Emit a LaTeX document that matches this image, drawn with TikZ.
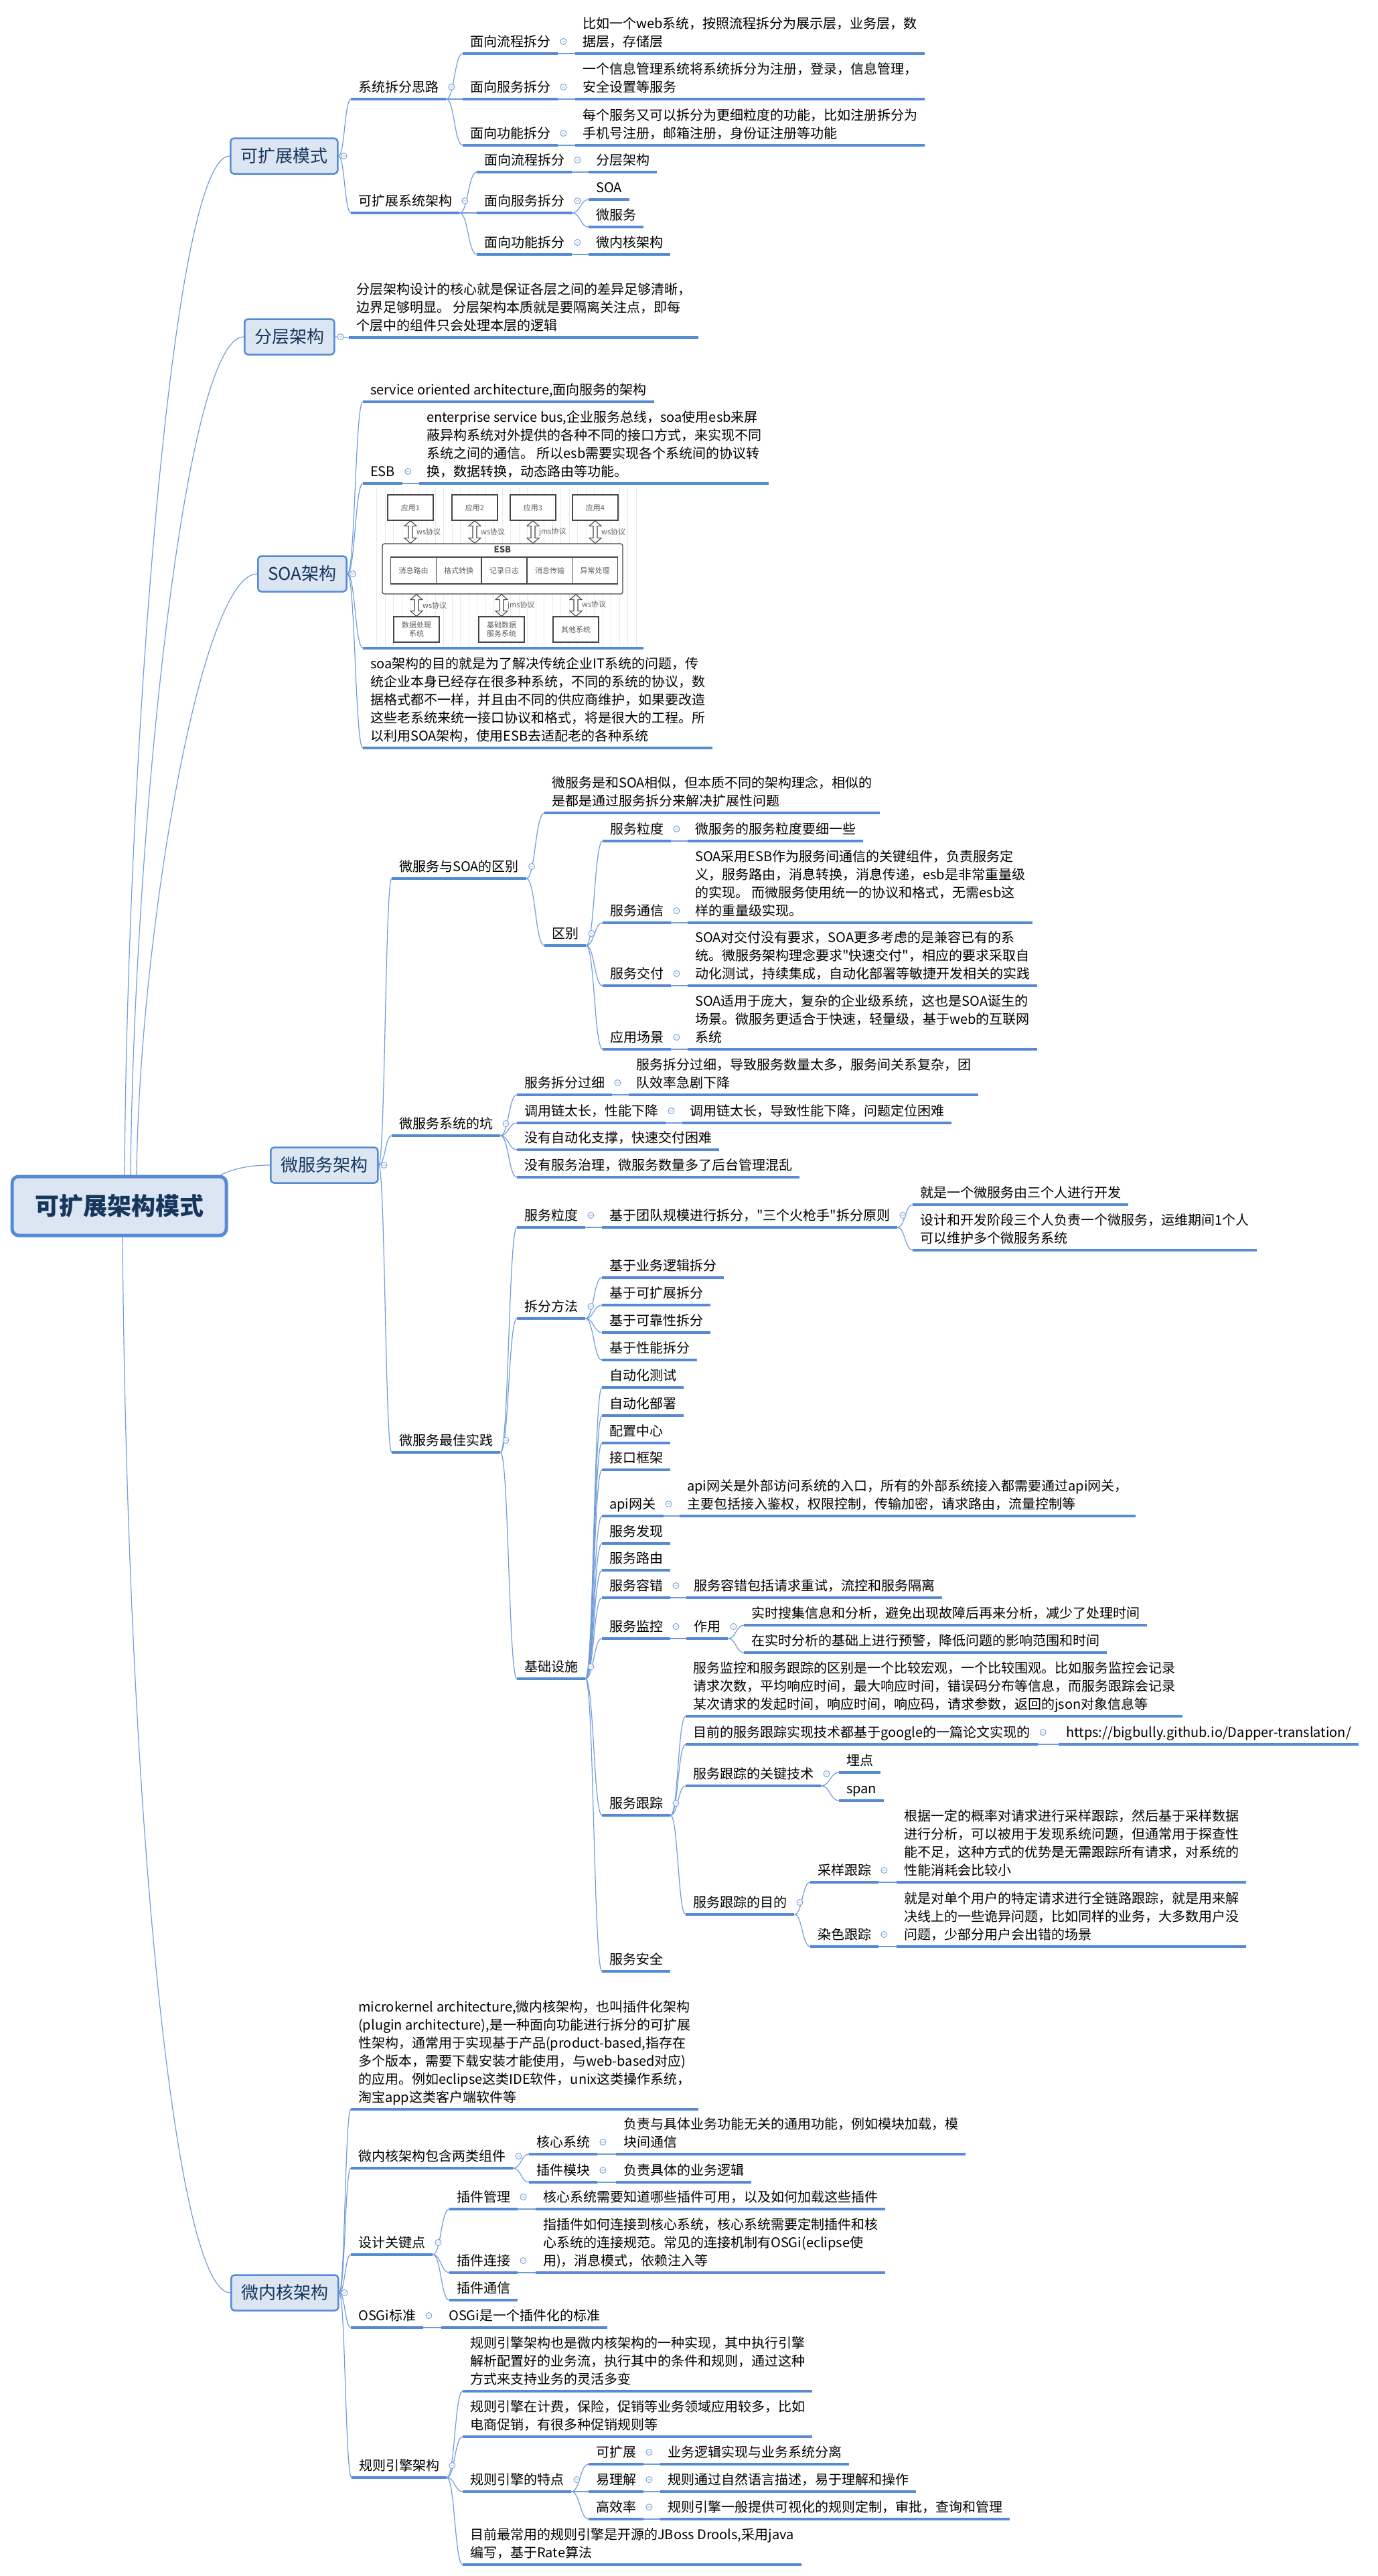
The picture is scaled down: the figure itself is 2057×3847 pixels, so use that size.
\documentclass[tikz,border=0pt]{standalone}
\usepackage{fontspec}
\setmainfont{Noto Sans CJK SC}[Ligatures=TeXOff]
\usetikzlibrary{calc}
\definecolor{ulc}{RGB}{86,138,212}
\definecolor{linkc}{RGB}{112,156,218}
\definecolor{boxfill}{RGB}{220,230,242}
\definecolor{boxtext}{RGB}{23,54,93}
\definecolor{imgline}{RGB}{70,70,70}
\definecolor{imgtext}{RGB}{95,95,95}
\definecolor{gridc}{RGB}{234,234,234}
\pgfdeclarelayer{bg}
\pgfsetlayers{bg,main}
\begin{document}
\begin{tikzpicture}[
x=1pt,y=-1pt,
uline/.style={draw=ulc,line width=3.5pt},
link/.style={draw=linkc,line width=1.2pt,
  to path={let \p1=(\tikztostart),\p2=(\tikztotarget) in
    .. controls ({0.5*(\x1+\x2)},\y1) and ({0.5*(\x1+\x2)},\y2) .. (\tikztotarget)}},
foldmark/.style={draw=linkc,line width=0.9pt,fill=white,
  to path={circle[radius=4.5] ++(-2.5,0) -- ++(5,0)}},
topic/.style={anchor=south west,inner xsep=11pt,inner ysep=0pt,text depth=10pt,align=left,
  font=\fontsize{20}{27}\selectfont,
  append after command={(\tikzlastnode.south west) edge[uline] (\tikzlastnode.south east)}},
fold/.style={append after command={($(\tikzlastnode.south east)+(8,-18)$) edge[foldmark] (\tikzlastnode)}},
branch/.style={draw=ulc,line width=2.5pt,fill=boxfill,rounded corners=5pt,anchor=west,
  minimum height=53pt,inner xsep=15pt,font=\fontsize{26}{30}\selectfont,text=boxtext,
  append after command={($(\tikzlastnode.east)+(8,0)$) edge[foldmark] (\tikzlastnode)}},
rootbox/.style={draw=ulc,line width=5pt,fill=boxfill,rounded corners=10pt,
  minimum width=320pt,minimum height=88pt,font=\fontsize{36}{40}\selectfont\bfseries,text=boxtext},
imgtxt/.style={inner sep=1pt,font=\fontsize{11}{13}\selectfont,text=imgtext},
imgbox/.style={draw=imgline,line width=1.2pt,fill=white,minimum width=68pt,minimum height=38pt,
  align=center,imgtxt},
imgcell/.style={draw=imgline,line width=1.2pt,fill=white,minimum width=67.6pt,minimum height=40pt,imgtxt},
blk/.style={draw=imgline,fill=white,line width=1.1pt,
  to path={let \p1=(\tikztostart),\p2=(\tikztotarget) in
    (\x1,\y1) -- (\x1+9,\y1-8) -- (\x1+3,\y1-8) -- (\x1+3,\y2+8) -- (\x1+9,\y2+8) -- (\x1,\y2)
    -- (\x1-9,\y2+8) -- (\x1-3,\y2+8) -- (\x1-3,\y1-8) -- (\x1-9,\y1-8) -- cycle}}
]
\begin{pgfonlayer}{bg}
\fill[white] (0,0) rectangle (2057,3847);
\end{pgfonlayer}
\useasboundingbox (0,0) rectangle (2057,3847);

\node[rootbox] (root) at (178,1801) {可扩展架构模式};

\node[branch] (kzms) at (343,233) {可扩展模式};
\node[branch] (fcjg) at (364,503) {分层架构};
\node[branch] (soajg) at (384,857) {SOA架构};
\node[branch] (wfwjg) at (403,1740) {微服务架构};
\node[branch] (wnhjg) at (344,3424) {微内核架构};

\node[topic,fold] (cfsl) at (524,148) {系统拆分思路};
\node[topic,fold] (lc1) at (691,80) {面向流程拆分};
\node[topic] (lc1t) at (859,80) {比如一个web系统，按照流程拆分为展示层，业务层，数\\据层，存储层};
\node[topic,fold] (fw1) at (691,148) {面向服务拆分};
\node[topic] (fw1t) at (859,148) {一个信息管理系统将系统拆分为注册，登录，信息管理，\\安全设置等服务};
\node[topic,fold] (gn1) at (691,217) {面向功能拆分};
\node[topic] (gn1t) at (859,217) {每个服务又可以拆分为更细粒度的功能，比如注册拆分为\\手机号注册，邮箱注册，身份证注册等功能};
\node[topic,fold] (kzjg) at (524,318) {可扩展系统架构};
\node[topic,fold] (lc2) at (712,257) {面向流程拆分};
\node[topic] (lc2t) at (879,257) {分层架构};
\node[topic,fold] (fw2) at (712,318) {面向服务拆分};
\node[topic] (soa) at (879,298) {SOA};
\node[topic] (wfw) at (879,339) {微服务};
\node[topic,fold] (gn2) at (712,380) {面向功能拆分};
\node[topic] (gn2t) at (879,380) {微内核架构};

\node[topic] (fcdesc) at (521,504) {分层架构设计的核心就是保证各层之间的差异足够清晰，\\边界足够明显。 分层架构本质就是要隔离关注点，即每\\个层中的组件只会处理本层的逻辑};

\node[topic] (soadef) at (542,600) {service oriented architecture,面向服务的架构};
\node[topic,fold] (esb) at (542,722) {ESB};
\node[topic] (esbt) at (626,722) {enterprise service bus,企业服务总线，soa使用esb来屏\\蔽异构系统对外提供的各种不同的接口方式，来实现不同\\系统之间的通信。 所以esb需要实现各个系统间的协议转\\换，数据转换，动态路由等功能。};
\node[topic,minimum width=419pt,minimum height=236pt] (esbpic) at (542,968) {};
\node[topic] (soawhy) at (542,1117) {soa架构的目的就是为了解决传统企业IT系统的问题，传\\统企业本身已经存在很多种系统，不同的系统的协议，数\\据格式都不一样，并且由不同的供应商维护，如果要改造\\这些老系统来统一接口协议和格式，将是很大的工程。所\\以利用SOA架构，使用ESB去适配老的各种系统};

\draw[gridc,step=12.5] (552,729) grid (952,965);
\node[imgbox] (app1) at (613,758) {应用1};
\node[imgbox] (app2) at (709,758) {应用2};
\node[imgbox] (app3) at (796,758) {应用3};
\node[imgbox] (app4) at (889,758) {应用4};
\node[draw=imgline,line width=1.2pt,fill=white,rounded corners=3pt,minimum width=359pt,minimum height=75pt] (bus) at (750.5,849.5) {};
\node[imgtxt,font=\fontsize{13}{15}\selectfont\bfseries,text=imgline] (bustitle) at (750.5,821) {ESB};
\node[imgcell] (c1) at (617.5,852) {消息路由};
\node[imgcell] (c2) at (685,852) {格式转换};
\node[imgcell] (c3) at (753,852) {记录日志};
\node[imgcell] (c4) at (821,852) {消息传输};
\node[imgcell] (c5) at (888.5,852) {异常处理};
\node[imgbox] (dp) at (622,940) {数据处理\\系统};
\node[imgbox] (jcsj) at (749,940) {基础数据\\服务系统};
\node[imgbox] (qtxt) at (860,940) {其他系统};
\draw (app1.south) edge[blk] (app1.south |- bus.north);
\draw (app2.south) edge[blk] (app2.south |- bus.north);
\draw (app3.south) edge[blk] (app3.south |- bus.north);
\draw (app4.south) edge[blk] (app4.south |- bus.north);
\draw (dp.north |- bus.south) edge[blk] (dp.north);
\draw (jcsj.north |- bus.south) edge[blk] (jcsj.north);
\draw (qtxt.north |- bus.south) edge[blk] (qtxt.north);
\node[imgtxt,anchor=west] (p1) at (621,794) {ws协议};
\node[imgtxt,anchor=west] (p2) at (717,794) {ws协议};
\node[imgtxt,anchor=west] (p3) at (804,794) {jms协议};
\node[imgtxt,anchor=west] (p4) at (897,794) {ws协议};
\node[imgtxt,anchor=west] (p5) at (630,904) {ws协议};
\node[imgtxt,anchor=west] (p6) at (757,904) {jms协议};
\node[imgtxt,anchor=west] (p7) at (868,902) {ws协议};

\node[topic,fold] (qb) at (585,1312) {微服务与SOA的区别};
\node[topic] (qbdesc) at (813,1214) {微服务是和SOA相似，但本质不同的架构理念，相似的\\是都是通过服务拆分来解决扩展性问题};
\node[topic,fold] (qbie) at (813,1412) {区别};
\node[topic,fold] (lidu) at (900,1256) {服务粒度};
\node[topic] (liduT) at (1027,1256) {微服务的服务粒度要细一些};
\node[topic,fold] (tongxin) at (900,1378) {服务通信};
\node[topic] (tongxinT) at (1027,1378) {SOA采用ESB作为服务间通信的关键组件，负责服务定\\义，服务路由，消息转换，消息传递，esb是非常重量级\\的实现。 而微服务使用统一的协议和格式，无需esb这\\样的重量级实现。};
\node[topic,fold] (jiaofu) at (900,1472) {服务交付};
\node[topic] (jiaofuT) at (1027,1472) {SOA对交付没有要求，SOA更多考虑的是兼容已有的系\\统。微服务架构理念要求"快速交付"，相应的要求采取自\\动化测试，持续集成，自动化部署等敏捷开发相关的实践};
\node[topic,fold] (changjing) at (900,1567) {应用场景};
\node[topic] (changjingT) at (1027,1567) {SOA适用于庞大，复杂的企业级系统，这也是SOA诞生的\\场景。微服务更适合于快速，轻量级，基于web的互联网\\系统};
\node[topic,fold] (keng) at (585,1696) {微服务系统的坑};
\node[topic,fold] (k1) at (772,1635) {服务拆分过细};
\node[topic] (k1t) at (939,1635) {服务拆分过细，导致服务数量太多，服务间关系复杂，团\\队效率急剧下降};
\node[topic,fold] (k2) at (772,1677) {调用链太长，性能下降};
\node[topic] (k2t) at (1019,1677) {调用链太长，导致性能下降，问题定位困难};
\node[topic] (k3) at (772,1717) {没有自动化支撑，快速交付困难};
\node[topic] (k4) at (772,1758) {没有服务治理，微服务数量多了后台管理混乱};
\node[topic,fold] (zj) at (585,2169) {微服务最佳实践};
\node[topic,fold] (zlidu) at (772,1833) {服务粒度};
\node[topic,fold] (team) at (899,1833) {基于团队规模进行拆分，"三个火枪手"拆分原则};
\node[topic] (team1) at (1363,1799) {就是一个微服务由三个人进行开发};
\node[topic] (team2) at (1363,1867) {设计和开发阶段三个人负责一个微服务，运维期间1个人\\可以维护多个微服务系统};
\node[topic,fold] (ff) at (772,1969) {拆分方法};
\node[topic] (ff1) at (899,1908) {基于业务逻辑拆分};
\node[topic] (ff2) at (899,1949) {基于可扩展拆分};
\node[topic] (ff3) at (899,1990) {基于可靠性拆分};
\node[topic] (ff4) at (899,2031) {基于性能拆分};
\node[topic,fold] (jc) at (772,2507) {基础设施};
\node[topic] (jc1) at (899,2072) {自动化测试};
\node[topic] (jc2) at (899,2114) {自动化部署};
\node[topic] (jc3) at (899,2155) {配置中心};
\node[topic] (jc4) at (899,2195) {接口框架};
\node[topic,fold] (api) at (899,2264) {api网关};
\node[topic] (apit) at (1015,2264) {api网关是外部访问系统的入口，所有的外部系统接入都需要通过api网关，\\主要包括接入鉴权，权限控制，传输加密，请求路由，流量控制等};
\node[topic] (jc6) at (899,2305) {服务发现};
\node[topic] (jc7) at (899,2345) {服务路由};
\node[topic,fold] (rc) at (899,2386) {服务容错};
\node[topic] (rct) at (1025,2386) {服务容错包括请求重试，流控和服务隔离};
\node[topic,fold] (jk) at (899,2447) {服务监控};
\node[topic,fold] (zy) at (1025,2447) {作用};
\node[topic] (zy1) at (1111,2427) {实时搜集信息和分析，避免出现故障后再来分析，减少了处理时间};
\node[topic] (zy2) at (1111,2468) {在实时分析的基础上进行预警，降低问题的影响范围和时间};
\node[topic,fold] (gz) at (899,2711) {服务跟踪};
\node[topic] (gz1) at (1024,2563) {服务监控和服务跟踪的区别是一个比较宏观，一个比较围观。比如服务监控会记录\\请求次数，平均响应时间，最大响应时间，错误码分布等信息，而服务跟踪会记录\\某次请求的发起时间，响应时间，响应码，请求参数，返回的json对象信息等};
\node[topic,fold] (gz2) at (1024,2605) {目前的服务跟踪实现技术都基于google的一篇论文实现的};
\node[topic] (url) at (1581,2605) {https://bigbully.github.io/Dapper-translation/};
\node[topic,fold] (gz3) at (1024,2667) {服务跟踪的关键技术};
\node[topic] (maidian) at (1253,2647) {埋点};
\node[topic] (span) at (1253,2689) {span};
\node[topic,fold] (gz4) at (1024,2859) {服务跟踪的目的};
\node[topic,fold] (cy) at (1210,2811) {采样跟踪};
\node[topic] (cyt) at (1339,2811) {根据一定的概率对请求进行采样跟踪，然后基于采样数据\\进行分析，可以被用于发现系统问题，但通常用于探查性\\能不足，这种方式的优势是无需跟踪所有请求，对系统的\\性能消耗会比较小};
\node[topic,fold] (rs) at (1210,2907) {染色跟踪};
\node[topic] (rst) at (1339,2907) {就是对单个用户的特定请求进行全链路跟踪，就是用来解\\决线上的一些诡异问题，比如同样的业务，大多数用户没\\问题，少部分用户会出错的场景};
\node[topic] (aq) at (899,2944) {服务安全};

\node[topic] (mk) at (524,3150) {microkernel architecture,微内核架构，也叫插件化架构\\(plugin architecture),是一种面向功能进行拆分的可扩展\\性架构，通常用于实现基于产品(product-based,指存在\\多个版本，需要下载安装才能使用，与web-based对应)\\的应用。例如eclipse这类IDE软件，unix这类操作系统，\\淘宝app这类客户端软件等};
\node[topic,fold] (zj2) at (524,3238) {微内核架构包含两类组件};
\node[topic,fold] (hx) at (790,3217) {核心系统};
\node[topic] (hxt) at (920,3217) {负责与具体业务功能无关的通用功能，例如模块加载，模\\块间通信};
\node[topic,fold] (cj) at (790,3259) {插件模块};
\node[topic] (cjt) at (920,3259) {负责具体的业务逻辑};
\node[topic,fold] (gjd) at (524,3367) {设计关键点};
\node[topic,fold] (gl) at (671,3299) {插件管理};
\node[topic] (glt) at (800,3299) {核心系统需要知道哪些插件可用，以及如何加载这些插件};
\node[topic,fold] (lj) at (671,3394) {插件连接};
\node[topic] (ljt) at (800,3394) {指插件如何连接到核心系统，核心系统需要定制插件和核\\心系统的连接规范。常见的连接机制有OSGi(eclipse使\\用)，消息模式，依赖注入等};
\node[topic] (tx) at (671,3435) {插件通信};
\node[topic,fold] (osgi) at (524,3476) {OSGi标准};
\node[topic] (osgit) at (659,3476) {OSGi是一个插件化的标准};
\node[topic,fold] (rule) at (525,3700) {规则引擎架构};
\node[topic] (r1) at (691,3571) {规则引擎架构也是微内核架构的一种实现，其中执行引擎\\解析配置好的业务流，执行其中的条件和规则，通过这种\\方式来支持业务的灵活多变};
\node[topic] (r2) at (691,3639) {规则引擎在计费，保险，促销等业务领域应用较多，比如\\电商促销，有很多种促销规则等};
\node[topic,fold] (td) at (691,3721) {规则引擎的特点};
\node[topic,fold] (kk) at (879,3680) {可扩展};
\node[topic] (kkt) at (986,3680) {业务逻辑实现与业务系统分离};
\node[topic,fold] (ylj) at (879,3721) {易理解};
\node[topic] (yljt) at (986,3721) {规则通过自然语言描述，易于理解和操作};
\node[topic,fold] (gxl) at (879,3762) {高效率};
\node[topic] (gxlt) at (986,3762) {规则引擎一般提供可视化的规则定制，审批，查询和管理};
\node[topic] (r3) at (691,3830) {目前最常用的规则引擎是开源的JBoss Drools,采用java\\编写，基于Rate算法};

\begin{pgfonlayer}{bg}
\draw[link] ([xshift=8pt]root.north) .. controls (190,1150) and (255,233) .. (kzms.west);
\draw[link] ([xshift=17pt]root.north) .. controls (200,1250) and (275,503) .. (fcjg.west);
\draw[link] ([xshift=26pt]root.north) .. controls (208,1400) and (300,857) .. (soajg.west);
\draw[link] ([xshift=152pt]root.north) .. controls (352,1744) and (375,1740) .. (wfwjg.west);
\draw[link] ([xshift=5pt]root.south) .. controls (190,2700) and (260,3424) .. (wnhjg.west);

\draw (kzms.east) edge[link] (cfsl.south west) edge[link] (kzjg.south west);
\draw (cfsl.south east) edge[link] (lc1.south west) edge[link] (fw1.south west) edge[link] (gn1.south west);
\draw (lc1.south east) edge[link] (lc1t.south west);
\draw (fw1.south east) edge[link] (fw1t.south west);
\draw (gn1.south east) edge[link] (gn1t.south west);
\draw (kzjg.south east) edge[link] (lc2.south west) edge[link] (fw2.south west) edge[link] (gn2.south west);
\draw (lc2.south east) edge[link] (lc2t.south west);
\draw (fw2.south east) edge[link] (soa.south west) edge[link] (wfw.south west);
\draw (gn2.south east) edge[link] (gn2t.south west);

\draw (fcjg.east) edge[link] (fcdesc.south west);

\draw (soajg.east) edge[link] (soadef.south west) edge[link] (esb.south west) edge[link] (esbpic.south west) edge[link] (soawhy.south west);
\draw (esb.south east) edge[link] (esbt.south west);

\draw (wfwjg.east) edge[link] (qb.south west) edge[link] (keng.south west) edge[link] (zj.south west);
\draw (qb.south east) edge[link] (qbdesc.south west) edge[link] (qbie.south west);
\draw (qbie.south east) edge[link] (lidu.south west) edge[link] (tongxin.south west) edge[link] (jiaofu.south west) edge[link] (changjing.south west);
\draw (lidu.south east) edge[link] (liduT.south west);
\draw (tongxin.south east) edge[link] (tongxinT.south west);
\draw (jiaofu.south east) edge[link] (jiaofuT.south west);
\draw (changjing.south east) edge[link] (changjingT.south west);
\draw (keng.south east) edge[link] (k1.south west) edge[link] (k2.south west) edge[link] (k3.south west) edge[link] (k4.south west);
\draw (k1.south east) edge[link] (k1t.south west);
\draw (k2.south east) edge[link] (k2t.south west);
\draw (zj.south east) edge[link] (zlidu.south west) edge[link] (ff.south west) edge[link] (jc.south west);
\draw (zlidu.south east) edge[link] (team.south west);
\draw (team.south east) edge[link] (team1.south west) edge[link] (team2.south west);
\draw (ff.south east) edge[link] (ff1.south west) edge[link] (ff2.south west) edge[link] (ff3.south west) edge[link] (ff4.south west);
\draw (jc.south east) edge[link] (jc1.south west) edge[link] (jc2.south west) edge[link] (jc3.south west) edge[link] (jc4.south west)
  edge[link] (api.south west) edge[link] (jc6.south west) edge[link] (jc7.south west) edge[link] (rc.south west)
  edge[link] (jk.south west) edge[link] (gz.south west) edge[link] (aq.south west);
\draw (api.south east) edge[link] (apit.south west);
\draw (rc.south east) edge[link] (rct.south west);
\draw (jk.south east) edge[link] (zy.south west);
\draw (zy.south east) edge[link] (zy1.south west) edge[link] (zy2.south west);
\draw (gz.south east) edge[link] (gz1.south west) edge[link] (gz2.south west) edge[link] (gz3.south west) edge[link] (gz4.south west);
\draw (gz2.south east) edge[link] (url.south west);
\draw (gz3.south east) edge[link] (maidian.south west) edge[link] (span.south west);
\draw (gz4.south east) edge[link] (cy.south west) edge[link] (rs.south west);
\draw (cy.south east) edge[link] (cyt.south west);
\draw (rs.south east) edge[link] (rst.south west);

\draw (wnhjg.east) edge[link] (mk.south west) edge[link] (zj2.south west) edge[link] (gjd.south west) edge[link] (osgi.south west) edge[link] (rule.south west);
\draw (zj2.south east) edge[link] (hx.south west) edge[link] (cj.south west);
\draw (hx.south east) edge[link] (hxt.south west);
\draw (cj.south east) edge[link] (cjt.south west);
\draw (gjd.south east) edge[link] (gl.south west) edge[link] (lj.south west) edge[link] (tx.south west);
\draw (gl.south east) edge[link] (glt.south west);
\draw (lj.south east) edge[link] (ljt.south west);
\draw (osgi.south east) edge[link] (osgit.south west);
\draw (rule.south east) edge[link] (r1.south west) edge[link] (r2.south west) edge[link] (td.south west) edge[link] (r3.south west);
\draw (td.south east) edge[link] (kk.south west) edge[link] (ylj.south west) edge[link] (gxl.south west);
\draw (kk.south east) edge[link] (kkt.south west);
\draw (ylj.south east) edge[link] (yljt.south west);
\draw (gxl.south east) edge[link] (gxlt.south west);
\end{pgfonlayer}
\end{tikzpicture}
\end{document}
